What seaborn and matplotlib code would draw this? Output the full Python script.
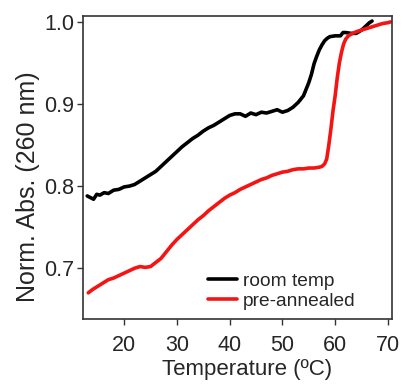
import pandas as pd
import matplotlib
matplotlib.use('Agg')
import matplotlib.pyplot as plt
import seaborn as sns

# room temp melt curve
room_temp = [13.0, 13.6, 14.2, 14.8, 15.4, 16.2, 17.0, 18.0, 19.0, 20.0, 21.0, 22.0,
             23.0, 24.0, 25.0, 26.0, 27.0, 28.0, 29.0, 30.0, 31.0, 32.0, 33.0, 34.0,
             35.0, 36.0, 37.0, 38.0, 39.0, 40.0, 41.0, 42.0, 43.0, 44.0, 45.0, 46.0,
             47.0, 48.0, 49.0, 50.0, 51.0, 52.0, 53.0, 54.0, 55.0, 55.5, 56.0, 56.5,
             57.0, 57.5, 58.0, 58.5, 59.0, 60.0, 61.0, 61.5, 62.0, 63.0, 64.0, 65.0,
             66.0, 66.5, 67.0]
room_abs = [0.788, 0.786, 0.784, 0.790, 0.789, 0.792, 0.791, 0.795, 0.796, 0.799, 0.800, 0.802,
            0.806, 0.810, 0.814, 0.818, 0.824, 0.830, 0.836, 0.842, 0.848, 0.853, 0.858, 0.862,
            0.867, 0.871, 0.874, 0.878, 0.882, 0.886, 0.888, 0.888, 0.885, 0.889, 0.887, 0.890,
            0.889, 0.891, 0.893, 0.890, 0.892, 0.896, 0.902, 0.910, 0.926, 0.936, 0.949, 0.958,
            0.966, 0.972, 0.977, 0.980, 0.982, 0.983, 0.983, 0.987, 0.987, 0.986, 0.986, 0.990,
            0.996, 0.999, 1.001]

# pre-annealed melt curve
annealed = [13.2, 14.0, 15.0, 16.0, 17.0, 18.0, 19.0, 20.0, 21.0, 22.0, 23.0, 24.0,
            25.0, 26.0, 27.0, 28.0, 29.0, 30.0, 31.0, 32.0, 33.0, 34.0, 35.0, 36.0,
            37.0, 38.0, 39.0, 40.0, 41.0, 42.0, 43.0, 44.0, 45.0, 46.0, 47.0, 48.0,
            49.0, 50.0, 51.0, 52.0, 53.0, 54.0, 55.0, 56.0, 57.0, 57.5, 58.0, 58.4,
            58.8, 59.2, 59.6, 60.0, 60.4, 60.8, 61.2, 61.6, 62.0, 62.5, 63.0, 64.0,
            65.0, 66.0, 67.0, 68.0, 69.0, 70.0, 70.5]
annealed_abs = [0.670, 0.674, 0.678, 0.682, 0.686, 0.688, 0.691, 0.694, 0.697, 0.700, 0.702, 0.701,
                0.702, 0.707, 0.712, 0.720, 0.728, 0.735, 0.741, 0.747, 0.753, 0.759, 0.764, 0.770,
                0.775, 0.780, 0.785, 0.789, 0.792, 0.796, 0.799, 0.802, 0.805, 0.808, 0.810, 0.813,
                0.815, 0.817, 0.818, 0.820, 0.821, 0.821, 0.822, 0.822, 0.823, 0.824, 0.827, 0.833,
                0.850, 0.870, 0.892, 0.910, 0.932, 0.950, 0.963, 0.973, 0.979, 0.983, 0.985, 0.988,
                0.990, 0.992, 0.994, 0.996, 0.998, 0.999, 1.000]

df = pd.concat([
    pd.DataFrame({'T': room_temp, 'A': room_abs, 'sample': 'room temp'}),
    pd.DataFrame({'T': annealed, 'A': annealed_abs, 'sample': 'pre-annealed'}),
])

sns.set_style('ticks')
plt.rcParams['font.family'] = ['Liberation Sans', 'DejaVu Sans']

fig = plt.figure(figsize=(4.03, 3.84), dpi=100)
ax = fig.add_axes([0.206, 0.169, 0.767, 0.789])
sns.lineplot(data=df, x='T', y='A', hue='sample', sort=False, estimator=None,
             palette={'room temp': 'black', 'pre-annealed': '#f41414'},
             linewidth=2.6, ax=ax)

ax.set_xlim(12.2, 70.8)
ax.set_ylim(0.638, 1.007)
ax.set_xticks([20, 30, 40, 50, 60, 70])
ax.set_yticks([0.7, 0.8, 0.9, 1.0])
ax.set_xlabel('Temperature (ºC)', fontsize=16)
ax.set_ylabel('Norm. Abs. (260 nm)', fontsize=18)
ax.xaxis.set_label_coords(0.532, -0.132)
ax.yaxis.set_label_coords(-0.14, 0.436)
ax.tick_params(labelsize=15.5, length=4.5, width=1, color='#333333')
ax.tick_params(axis='x', pad=7)
ax.tick_params(axis='y', pad=2)
for s in ax.spines.values():
    s.set_visible(True)
    s.set_color('#333333')
    s.set_linewidth(1.2)

ax.legend(loc='lower left', bbox_to_anchor=(0.348, -0.027), frameon=False,
          fontsize=13.8, handlelength=1.5, handletextpad=0.35, labelspacing=0.15)

fig.savefig('out.png', dpi=100)
